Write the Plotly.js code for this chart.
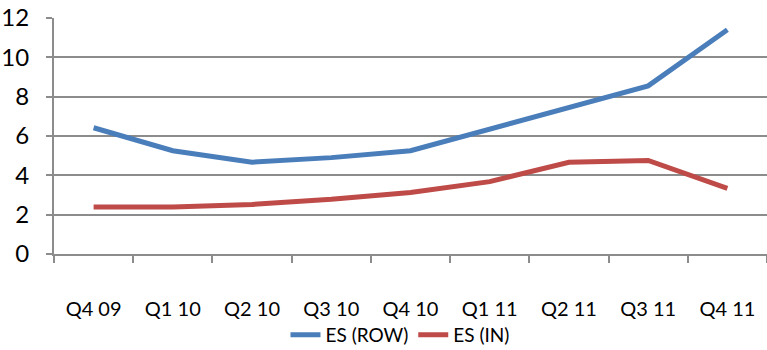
<!DOCTYPE html>
<html>
<head>
<meta charset="utf-8">
<script src="https://cdn.plot.ly/plotly-3.0.1.min.js"></script>
<style>html,body{margin:0;padding:0;background:#fff;}#chart{width:767px;height:350px;}</style>
</head>
<body>
<div id="chart"></div>
<script>
const categories = ["Q4 09","Q1 10","Q2 10","Q3 10","Q4 10","Q1 11","Q2 11","Q3 11","Q4 11"];
const esRow = [6.42, 5.25, 4.67, 4.9, 5.25, 6.35, 7.48, 8.55, 11.4];
const esIn  = [2.39, 2.39, 2.52, 2.78, 3.13, 3.68, 4.66, 4.76, 3.34];
const yTicks = [0, 2, 4, 6, 8, 10, 12];

const FONT = 'Lato, "Liberation Sans", sans-serif';

const traces = [
  {x: categories, y: esRow, name: 'ES (ROW)', type: 'scatter', mode: 'lines',
   line: {color: '#4a7ebb', width: 5}},
  {x: categories, y: esIn, name: 'ES (IN)', type: 'scatter', mode: 'lines',
   line: {color: '#be4b48', width: 5}}
];

const layout = {
  width: 767, height: 350,
  margin: {l: 54, r: 0, t: 18, b: 96, autoexpand: false},
  paper_bgcolor: '#fff', plot_bgcolor: '#fff',
  showlegend: true,
  legend: {orientation: 'h', xref: 'container', yref: 'container',
           x: 0.5215, xanchor: 'center', y: 0.043, yanchor: 'middle',
           font: {family: FONT, size: 19, color: '#000'}, bgcolor: 'rgba(0,0,0,0)'},
  xaxis: {type: 'category', range: [-0.5, 8.5], tickson: 'boundaries',
          ticks: 'outside', ticklen: 7, tickcolor: '#8c8c8c', tickwidth: 2,
          showline: true, linecolor: '#8c8c8c', linewidth: 2,
          showgrid: false, zeroline: false, fixedrange: true, automargin: false,
          ticklabelstandoff: 36,
          tickfont: {family: FONT, size: 20, color: '#000'}},
  yaxis: {range: [0, 12], tickvals: yTicks, ticktext: yTicks.map(String),
          ticks: 'outside', ticklen: 6, tickcolor: '#8c8c8c', tickwidth: 2,
          showline: true, linecolor: '#8c8c8c', linewidth: 2,
          showgrid: true, gridcolor: '#8c8c8c', gridwidth: 2,
          zeroline: false, fixedrange: true, automargin: false,
          ticklabelstandoff: 12,
          tickfont: {family: FONT, size: 24, color: '#000'}}
};

Plotly.newPlot('chart', traces, layout, {displayModeBar: false, staticPlot: true});
</script>
</body>
</html>
